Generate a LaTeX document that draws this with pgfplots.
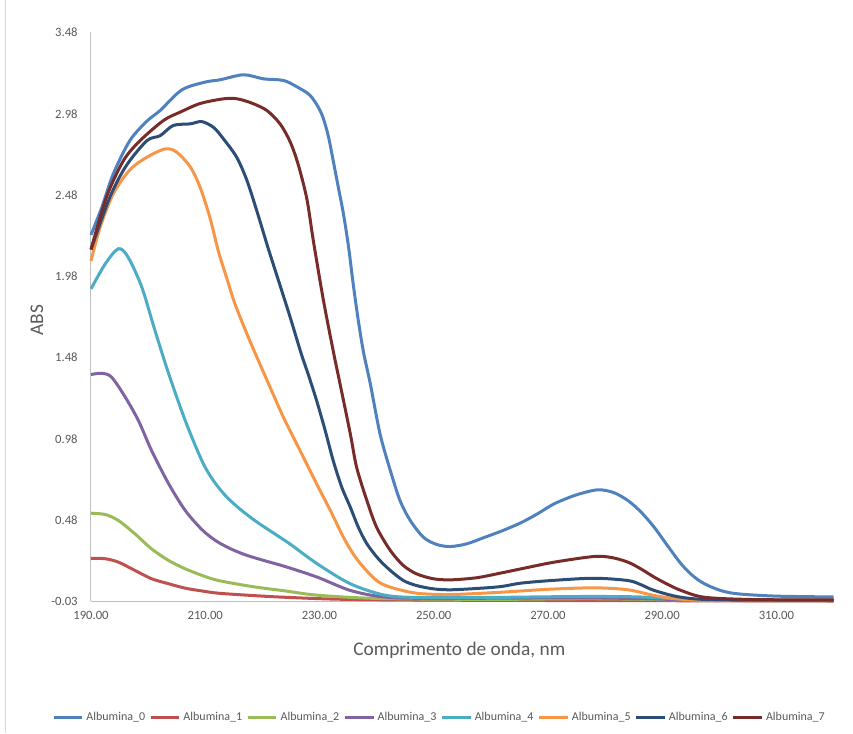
\documentclass[border=0pt]{standalone}
\usepackage{pgfplots}
\pgfplotsset{compat=1.18}
\usepackage{fontspec}
\setmainfont{Carlito}

\definecolor{alb0}{HTML}{4F81BD}
\definecolor{alb1}{HTML}{C0504D}
\definecolor{alb2}{HTML}{9BBB59}
\definecolor{alb3}{HTML}{8064A2}
\definecolor{alb4}{HTML}{4BACC6}
\definecolor{alb5}{HTML}{F79646}
\definecolor{alb6}{HTML}{2C4D75}
\definecolor{alb7}{HTML}{772C2A}
\definecolor{txtgray}{HTML}{595959}
\definecolor{axgray}{HTML}{BFBFBF}
\definecolor{framegray}{HTML}{D9D9D9}

\begin{document}
\begin{tikzpicture}
\begin{axis}[
  scale only axis,
  width=556.9pt, height=426.75pt,
  xmin=190, xmax=320,
  ymin=-0.025, ymax=3.475,
  clip=false,
  axis x line*=bottom, axis y line*=left,
  axis line style={draw=axgray, line width=0.75pt, -},
  major tick length=0pt,
  xtick={190,210,230,250,270,290,310},
  xticklabels={190.00,210.00,230.00,250.00,270.00,290.00,310.00},
  ytick={-0.025,0.475,0.975,1.475,1.975,2.475,2.975,3.475},
  yticklabels={-0.03,0.48,0.98,1.48,1.98,2.48,2.98,3.48},
  ticklabel style={font=\fontsize{9.5}{11}\selectfont, text=txtgray},
  xticklabel style={yshift=-4pt},
  yticklabel style={xshift=-6.5pt},
  xlabel={Comprimento de onda, nm},
  ylabel={ABS},
  label style={font=\fontsize{14.5}{17}\selectfont, text=txtgray},
  xlabel style={at={(axis description cs:0.496,-0.0861)}, anchor=center},
  ylabel style={at={(axis description cs:-0.0727,0.494)}, anchor=center},
  every axis plot/.append style={line width=2.25pt, smooth, no markers},
  legend columns=8,
  legend style={at={(axis description cs:0.4697,-0.2039)}, anchor=center,
    draw=none, fill=none, inner sep=0pt,
    font=\fontsize{9}{11}\selectfont, text=txtgray,
    nodes={inner sep=2pt},
    /tikz/every even column/.append style={column sep=1pt}},
  legend image code/.code={\draw[#1, line width=2.25pt] (0pt,0pt) -- (21.5pt,0pt);},
]
\coordinate (O) at (rel axis cs:0,0);

% Albumina_0
\addplot[alb0] coordinates {
(190,2.23) (191.9,2.40) (193.9,2.605) (196.8,2.81) (199.8,2.93) (202.1,2.995)
(205.9,3.122) (210,3.17) (212.6,3.184) (216.7,3.215) (220.2,3.19) (223.7,3.18)
(226.1,3.14) (228.3,3.09) (229.8,3.015) (230.7,2.944) (231.6,2.83) (232.4,2.687)
(233.3,2.523) (234.2,2.359) (235.1,2.154) (235.9,1.929) (236.8,1.703) (237.7,1.51)
(238.9,1.314) (240.6,1.006) (242.4,0.781) (244.1,0.596) (245.9,0.473) (248.2,0.37)
(250.5,0.326) (252.9,0.313) (255.8,0.33) (258.7,0.367) (262,0.41) (265.3,0.46)
(268.2,0.515) (271.1,0.576) (274.9,0.63) (278.7,0.662) (281.5,0.645) (284,0.596)
(286.3,0.525) (288.6,0.432) (291,0.315) (293.3,0.207) (295.3,0.135) (297.4,0.084)
(300.3,0.042) (303.3,0.022) (310,0.008) (320,0.003)};
\addlegendentry{Albumina\_0}

% Albumina_1
\addplot[alb1] coordinates {
(190,0.241) (192.5,0.238) (194.8,0.217) (197.7,0.166) (200.6,0.115) (203.6,0.084)
(206.5,0.057) (209.4,0.04) (212.3,0.026) (218.2,0.012) (224,0.001) (235,-0.012)
(260,-0.018) (320,-0.022)};
\addlegendentry{Albumina\_1}

% Albumina_2
\addplot[alb2] coordinates {
(190,0.518) (192.5,0.51) (194.8,0.473) (197.7,0.391) (200.6,0.299) (203.6,0.227)
(206.5,0.176) (209.4,0.136) (212.3,0.104) (218.2,0.067) (224,0.04) (229.6,0.014)
(240,-0.006) (260,-0.012) (278,-0.008) (300,-0.018) (320,-0.02)};
\addlegendentry{Albumina\_2}

% Albumina_3
\addplot[alb3] coordinates {
(190,1.371) (191.9,1.379) (193.6,1.355) (196,1.232) (198.3,1.088) (200.6,0.904)
(203.6,0.699) (206.5,0.535) (209.4,0.418) (211.8,0.35) (214.4,0.3) (217.2,0.26)
(220.5,0.225) (224,0.19) (229.6,0.125) (235.4,0.043) (241.3,0.003)
(250,-0.006) (278,-0.003) (300,-0.018) (320,-0.02)};
\addlegendentry{Albumina\_3}

% Albumina_4
\addplot[alb4] coordinates {
(190,1.898) (192.5,2.052) (194.8,2.145) (196.5,2.093) (198.9,1.908) (201.2,1.642)
(203.6,1.376) (206.5,1.088) (209.4,0.842) (211.4,0.72) (213.7,0.62) (216.2,0.54)
(219,0.465) (222,0.395) (225,0.325) (229.6,0.207) (235.4,0.084) (241.3,0.015)
(247,0.0) (260,0.0) (270,0.004) (278,0.006) (286,0.003) (295,-0.012) (305,-0.018)
(320,-0.02)};
\addlegendentry{Albumina\_4}

% Albumina_5
\addplot[alb5] coordinates {
(190,2.07) (191.6,2.277) (193.9,2.483) (196.8,2.63) (199.8,2.708) (203,2.759)
(205,2.739) (207.4,2.647) (209.1,2.523) (210.8,2.339) (212.3,2.13) (213.8,1.96)
(215.2,1.806) (217.3,1.621) (219.3,1.457) (221.6,1.273) (223.8,1.10) (226.6,0.904)
(229.5,0.699) (231.9,0.535) (234.2,0.37) (235.9,0.268) (237.7,0.186) (240,0.104)
(242.4,0.063) (247,0.026) (253,0.018) (261.8,0.032) (270,0.05) (278.1,0.059)
(284,0.047) (288.6,0.012) (293,-0.01) (300,-0.018) (320,-0.02)};
\addlegendentry{Albumina\_5}

% Albumina_6
\addplot[alb6] coordinates {
(190,2.14) (193.3,2.462) (196.2,2.657) (199.8,2.81) (202.1,2.84) (204.4,2.903)
(207.4,2.913) (209.4,2.927) (211.5,2.89) (213.2,2.82) (215.5,2.708) (217.3,2.565)
(219.1,2.37) (221,2.15) (223,1.93) (224.9,1.72) (226.8,1.50) (228.1,1.365)
(229.5,1.211) (231,1.027) (232.4,0.842) (233.9,0.678) (235.4,0.555) (236.8,0.432)
(238.3,0.33) (240.3,0.238) (242.4,0.166) (244.7,0.104) (247,0.073) (249.9,0.053)
(252.9,0.047) (257.5,0.055) (261.8,0.067) (265.3,0.088) (271,0.105) (278.1,0.118)
(284,0.104) (286.3,0.078) (288.6,0.043) (293.3,0.001) (300,-0.015) (320,-0.017)};
\addlegendentry{Albumina\_6}

% Albumina_7
\addplot[alb7] coordinates {
(190,2.14) (192.7,2.462) (195.7,2.688) (198.6,2.81) (202.7,2.934) (205.6,2.985)
(209.1,3.038) (213.2,3.067) (215.6,3.067) (218.2,3.04) (220.8,2.995) (223.1,2.913)
(224.9,2.80) (226.3,2.66) (227.8,2.45) (228.9,2.20) (230.7,1.826) (232.5,1.50)
(233.6,1.314) (235.4,1.006) (236.5,0.801) (238.3,0.596) (240,0.432) (242.4,0.289)
(244.7,0.196) (247,0.145) (249.9,0.115) (252.9,0.108) (257.5,0.121) (261.6,0.149)
(265.3,0.176) (271.1,0.217) (278.1,0.252) (281.2,0.245) (284,0.217) (286.3,0.175)
(288.6,0.125) (291,0.08) (293.3,0.043) (297.4,0.001) (306,-0.013) (320,-0.015)};
\addlegendentry{Albumina\_7}
\end{axis}

% chart area: frame edge on the left and overall extent
\draw[framegray, line width=0.75pt] ([shift={(-63.75pt,-99pt)}]O) -- ([shift={(-63.75pt,450.75pt)}]O);
\path ([shift={(-68.25pt,-99pt)}]O) rectangle ([shift={(571.5pt,450.75pt)}]O);
\end{tikzpicture}
\end{document}
